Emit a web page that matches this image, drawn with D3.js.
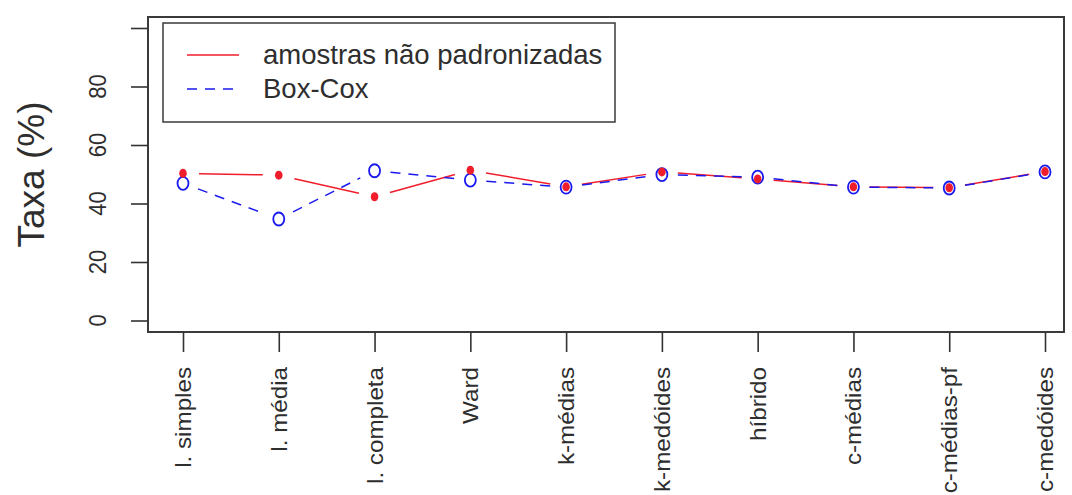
<!DOCTYPE html>
<html>
<head>
<meta charset="utf-8">
<script src="https://cdn.jsdelivr.net/npm/d3@7"></script>
<style>
  html, body { margin: 0; padding: 0; background: #fff; }
  svg { display: block; font-family: "Liberation Sans", Arial, Helvetica, sans-serif; }
</style>
</head>
<body>
<svg id="chart" width="1072" height="495"></svg>
<script>
// Clustering methods compared
const categories = ["l. simples", "l. média", "l. completa", "Ward", "k-médias",
                    "k-medóides", "híbrido", "c-médias", "c-médias-pf", "c-medóides"];
// Rate (%) per method
const rawValues    = [50.3, 49.7, 42.3, 51.4, 45.7, 50.8, 48.4, 45.7, 45.4, 50.9];
const boxCoxValues = [46.9, 34.7, 51.2, 48.0, 45.6, 49.9, 49.0, 45.6, 45.3, 50.8];
const seriesNames  = ["amostras não padronizadas", "Box-Cox"];
const yTicks       = [0, 20, 40, 60, 80, 100];
const yTickLabels  = ["0", "20", "40", "60", "80", ""];
const yTitle       = "Taxa (%)";

const svg = d3.select("#chart");
const box = { left: 148, right: 1064, top: 17, bottom: 332 };
const ink = "#2e2e2e";

const x = d3.scalePoint().domain(categories).range([183, 1045]);
const y = d3.scaleLinear().domain([0, 100]).range([320.5, 28]);

// plot frame
svg.append("rect")
  .attr("x", box.left).attr("y", box.top)
  .attr("width", box.right - box.left).attr("height", box.bottom - box.top)
  .attr("fill", "none").attr("stroke", "#3a3a3a").attr("stroke-width", 2);

// y axis: ticks on the frame, rotated labels
const yAxis = svg.append("g")
  .attr("transform", `translate(${box.left},0)`)
  .call(d3.axisLeft(y).tickValues(yTicks).tickSize(17).tickFormat(""));
yAxis.select(".domain").remove();
yAxis.selectAll(".tick line").attr("stroke", "#333").attr("stroke-width", 1.6);

svg.append("g").selectAll("text")
  .data(yTicks)
  .join("text")
  .attr("transform", (d) => `translate(106,${y(d)}) scale(1.1,1) rotate(-90)`)
  .attr("text-anchor", "middle")
  .attr("font-size", 22)
  .attr("fill", ink)
  .text((d, i) => yTickLabels[i]);

// y axis title
svg.append("text")
  .attr("transform", `translate(44,${(box.top + box.bottom) / 2}) rotate(-90)`)
  .attr("text-anchor", "middle")
  .attr("font-size", 37)
  .attr("fill", ink)
  .text(yTitle);

// x axis: ticks below the frame, vertical labels
const xAxis = svg.append("g")
  .attr("transform", `translate(0,${box.bottom})`)
  .call(d3.axisBottom(x).tickSize(20).tickFormat(""));
xAxis.select(".domain").remove();
xAxis.selectAll(".tick line").attr("stroke", "#333").attr("stroke-width", 1.6);

svg.append("g").selectAll("text")
  .data(categories)
  .join("text")
  .attr("transform", (d) => `translate(${x(d) + 8},367) scale(1,1.1) rotate(-90)`)
  .attr("text-anchor", "end")
  .attr("font-size", 22)
  .attr("fill", ink)
  .text((d) => d);

// connecting segments with gaps around the points (type = "b" style)
function gappedSegments(values, gap) {
  const segs = [];
  for (let i = 0; i < values.length - 1; i++) {
    const x0 = x(categories[i]), y0 = y(values[i]);
    const x1 = x(categories[i + 1]), y1 = y(values[i + 1]);
    const dx = x1 - x0, dy = y1 - y0, len = Math.hypot(dx, dy);
    const ux = dx / len, uy = dy / len;
    segs.push([[x0 + ux * gap, y0 + uy * gap], [x1 - ux * gap, y1 - uy * gap]]);
  }
  return segs;
}
const line = d3.line();

const redColor = "#f01e2c";
const blueColor = "#1a1aee";

svg.append("g").selectAll("path")
  .data(gappedSegments(rawValues, 16))
  .join("path")
  .attr("d", line)
  .attr("fill", "none").attr("stroke", redColor).attr("stroke-width", 1.5);

svg.append("g").selectAll("path")
  .data(gappedSegments(boxCoxValues, 16))
  .join("path")
  .attr("d", line)
  .attr("fill", "none").attr("stroke", blueColor).attr("stroke-width", 1.5)
  .attr("stroke-dasharray", "10,8");

// open circles for the Box-Cox series
svg.append("g").selectAll("ellipse")
  .data(boxCoxValues)
  .join("ellipse")
  .attr("cx", (d, i) => x(categories[i]))
  .attr("cy", (d) => y(d))
  .attr("rx", 5.5).attr("ry", 6.5)
  .attr("fill", "none").attr("stroke", blueColor).attr("stroke-width", 1.8);

// filled dots for the raw series
svg.append("g").selectAll("ellipse")
  .data(rawValues)
  .join("ellipse")
  .attr("cx", (d, i) => x(categories[i]))
  .attr("cy", (d) => y(d))
  .attr("rx", 3.8).attr("ry", 4.5)
  .attr("fill", redColor);

// legend
const lg = svg.append("g");
lg.append("rect")
  .attr("x", 163).attr("y", 23).attr("width", 452).attr("height", 99)
  .attr("fill", "#fff").attr("stroke", "#3a3a3a").attr("stroke-width", 1.5);
const legendRows = [
  { name: seriesNames[0], color: redColor, dash: null, cy: 55 },
  { name: seriesNames[1], color: blueColor, dash: "10,8", cy: 89 }
];
legendRows.forEach((r) => {
  lg.append("line")
    .attr("x1", 187).attr("x2", 239).attr("y1", r.cy).attr("y2", r.cy)
    .attr("stroke", r.color).attr("stroke-width", 1.5)
    .attr("stroke-dasharray", r.dash);
  lg.append("text")
    .attr("x", 263).attr("y", r.cy + 9)
    .attr("font-size", 27.5)
    .attr("fill", ink)
    .text(r.name);
});
</script>
</body>
</html>
